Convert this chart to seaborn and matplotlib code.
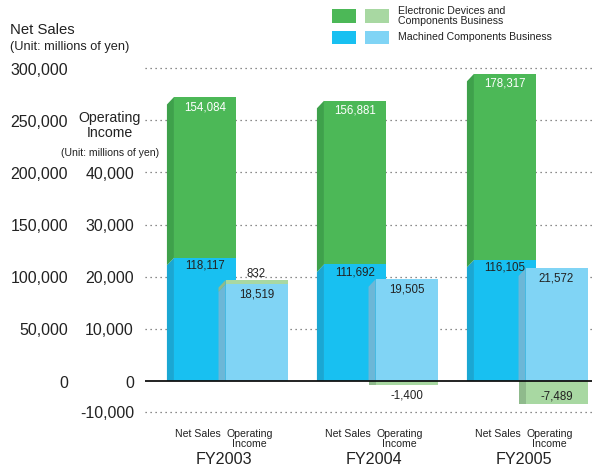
import numpy as np
import matplotlib
matplotlib.use("Agg")
import matplotlib.pyplot as plt
from matplotlib.patches import Polygon, Rectangle
import seaborn as sns

# ---------------- data ----------------
years = ["FY2003", "FY2004", "FY2005"]
sales_machined = [118117, 111692, 116105]
sales_electronic = [154084, 156881, 178317]
income_machined = [18519, 19505, 21572]
income_electronic = [832, -1400, -7489]
sales_ticks = [0, 50000, 100000, 150000, 200000, 250000, 300000]
income_ticks = [-10000, 0, 10000, 20000, 30000, 40000]
bar_kinds = ["Net Sales", "Operating\nIncome"]
legend_labels = ["Electronic Devices and\nComponents Business", "Machined Components Business"]

# ---------------- style ----------------
INCOME_FACTOR = 5      # 10,000 of income sits level with 50,000 of sales
NEG_SQUEEZE = 0.594    # negative part of the axis is compressed
W, H = 596, 465

GREEN, GREEN_SIDE = "#4cb857", "#3ea14b"
BLUE, BLUE_SIDE = "#18c0f1", "#1aa7d3"
LGREEN, LGREEN_SIDE = "#a8d8a2", "#8fba8c"
LBLUE, LBLUE_SIDE = "#80d4f5", "#6cb7d7"
TXT = "#222222"

sns.set_style("white")
plt.rcParams["font.family"] = ["Liberation Sans", "DejaVu Sans"]

fig = plt.figure(figsize=(W / 100, H / 100), dpi=100)
AX_L, AX_R, AX_T, AX_B = 145, 592, 60, 420
ax = fig.add_axes([AX_L / W, 1 - AX_B / H, (AX_R - AX_L) / W, (AX_B - AX_T) / H])


def fwd(y):
    y = np.asarray(y, dtype=float)
    return np.where(y >= 0, y, y * NEG_SQUEEZE)


def inv(y):
    y = np.asarray(y, dtype=float)
    return np.where(y >= 0, y, y / NEG_SQUEEZE)


ax.set_yscale("function", functions=(fwd, inv))

# layout (in group units; 1 unit = 150 px)
SALES_OFF, INC_OFF = -0.147, 0.197
FRONT_W, SIDE_D = 0.413, 0.047
n = len(years)
xs_sales = [i + SALES_OFF for i in range(n)]
xs_inc = [i + INC_OFF for i in range(n)]

sales_total = [m + e for m, e in zip(sales_machined, sales_electronic)]
inc_m_scaled = [v * INCOME_FACTOR for v in income_machined]
inc_e_scaled = [v * INCOME_FACTOR for v in income_electronic]
inc_outer = [m + e if e > 0 else e for m, e in zip(inc_m_scaled, inc_e_scaled)]


def bars(xs, vals, color, z):
    sns.barplot(x=xs, y=vals, native_scale=True, orient="x", width=FRONT_W,
                color=color, saturation=1, linewidth=0, errorbar=None,
                ax=ax, zorder=z)


bars(xs_sales, sales_total, GREEN, 2)
bars(xs_sales, sales_machined, BLUE, 2)
bars(xs_inc, inc_outer, LGREEN, 3)
bars(xs_inc, inc_m_scaled, LBLUE, 3)

# axis limits (forward space: top 307,670 ; bottom -37,380)
Y_TOP = 307670
Y_BOT = -37380 / NEG_SQUEEZE
ax.set_ylim(Y_BOT, Y_TOP)
ax.set_xlim((AX_L - 227) / 150, (AX_R - 227) / 150)

units_per_px = (Y_TOP - (-37380)) / (AX_B - AX_T)
DY = 7.5 * units_per_px

# 3D side faces
def side(xl, lo, hi, color, z, slant_lo=True):
    lo_l = lo - DY if (slant_lo and lo > 0) else lo
    hi_l = hi - DY if hi > 0 else hi
    poly = Polygon([(xl, lo_l), (xl, hi_l), (xl + SIDE_D, hi), (xl + SIDE_D, lo)],
                   closed=True, facecolor=color, edgecolor="none", zorder=z)
    ax.add_patch(poly)


for i in range(n):
    xl = xs_sales[i] - FRONT_W / 2 - SIDE_D
    side(xl, 0, sales_machined[i], BLUE_SIDE, 2)
    side(xl, sales_machined[i], sales_total[i], GREEN_SIDE, 2)
    xl = xs_inc[i] - FRONT_W / 2 - SIDE_D
    side(xl, 0, inc_m_scaled[i], LBLUE_SIDE, 3)
    if inc_e_scaled[i] > 0:
        side(xl, inc_m_scaled[i], inc_outer[i], LGREEN_SIDE, 3)
    else:
        side(xl, inc_e_scaled[i], 0, LGREEN_SIDE, 3)

# gridlines
for v in sales_ticks[1:] + [min(income_ticks) * INCOME_FACTOR]:
    ax.axhline(v, color="#666666", lw=0.9, ls=(0, (1, 3)), zorder=1)
ax.axhline(0, color="#111111", lw=1.3, zorder=5)

for s in ax.spines.values():
    s.set_visible(False)

# value labels
def lab(x, y, text, dy, color=TXT):
    ax.annotate(text, xy=(x, y), xytext=(0, dy), textcoords="offset pixels",
                ha="center", va="center", fontsize=8.3, color=color, zorder=6)


for i in range(n):
    lab(xs_sales[i], sales_total[i], f"{sales_electronic[i]:,}", -10, "white")
    lab(xs_sales[i], sales_machined[i], f"{sales_machined[i]:,}", -8)
    lab(xs_inc[i], inc_m_scaled[i], f"{income_machined[i]:,}", -10)
    e = income_electronic[i]
    if e > 0:
        lab(xs_inc[i], inc_outer[i], f"{e:,}", 6)
    elif e > -3000:
        lab(xs_inc[i], inc_outer[i], f"{e:,}", -10)
    else:
        lab(xs_inc[i], inc_outer[i], f"{e:,}", 8)

# x tick labels
tick_pos, tick_lab = [], []
for i in range(n):
    tick_pos += [i - 0.197, i + 0.15]
    tick_lab += bar_kinds
ax.set_xticks(tick_pos)
ax.set_xticklabels(tick_lab, fontsize=7.6, color=TXT, linespacing=1.0)
ax.tick_params(axis="x", length=0, pad=6.3)
ax.tick_params(axis="y", left=False, labelleft=False)
ax.set_xlabel("")
ax.set_ylabel("")

for i, yr in enumerate(years):
    ax.text(i - 0.02, (AX_B - 459) / (AX_B - AX_T), yr, transform=ax.get_xaxis_transform(),
            ha="center", va="center", fontsize=11.6, color=TXT)

# left axis labels
ytr = ax.get_yaxis_transform()
for v in sales_ticks:
    ax.annotate(f"{v:,}", xy=((68 - AX_L) / (AX_R - AX_L), v), xycoords=ytr,
                xytext=(0, -2), textcoords="offset pixels",
                ha="right", va="center", fontsize=11.5, color=TXT, annotation_clip=False)
for v in income_ticks:
    ax.annotate(f"{v:,}", xy=((134 - AX_L) / (AX_R - AX_L), v * INCOME_FACTOR), xycoords=ytr,
                xytext=(0, -2), textcoords="offset pixels",
                ha="right", va="center", fontsize=11.4, color=TXT, annotation_clip=False)

# header texts
def ftxt(x, y, s, **kw):
    fig.text(x / W, 1 - y / H, s, **kw)


ftxt(10, 34, "Net Sales", fontsize=10.7, color=TXT, va="baseline", ha="left")
ftxt(10, 50, "(Unit: millions of yen)", fontsize=9.2, color=TXT, va="baseline", ha="left")
ftxt(110, 125.5, "Operating\nIncome", fontsize=10.2, color=TXT, va="center", ha="center",
     multialignment="center", linespacing=1.15)
ftxt(110, 153, "(Unit: millions of yen)", fontsize=7.6, color=TXT, va="center", ha="center")

# legend
def frect(x0, y0, x1, y1, c):
    fig.add_artist(Rectangle((x0 / W, 1 - y1 / H), (x1 - x0) / W, (y1 - y0) / H,
                             transform=fig.transFigure, facecolor=c, edgecolor="none"))


frect(332, 9, 356, 23, GREEN)
frect(365, 9, 389, 23, LGREEN)
frect(332, 31, 356, 44, BLUE)
frect(365, 31, 389, 44, LBLUE)
ftxt(398, 16, legend_labels[0], fontsize=7.6, color=TXT, va="center", ha="left", linespacing=1.05)
ftxt(398, 37.5, legend_labels[1], fontsize=7.6, color=TXT, va="center", ha="left")

fig.savefig("out.png", dpi=100)
